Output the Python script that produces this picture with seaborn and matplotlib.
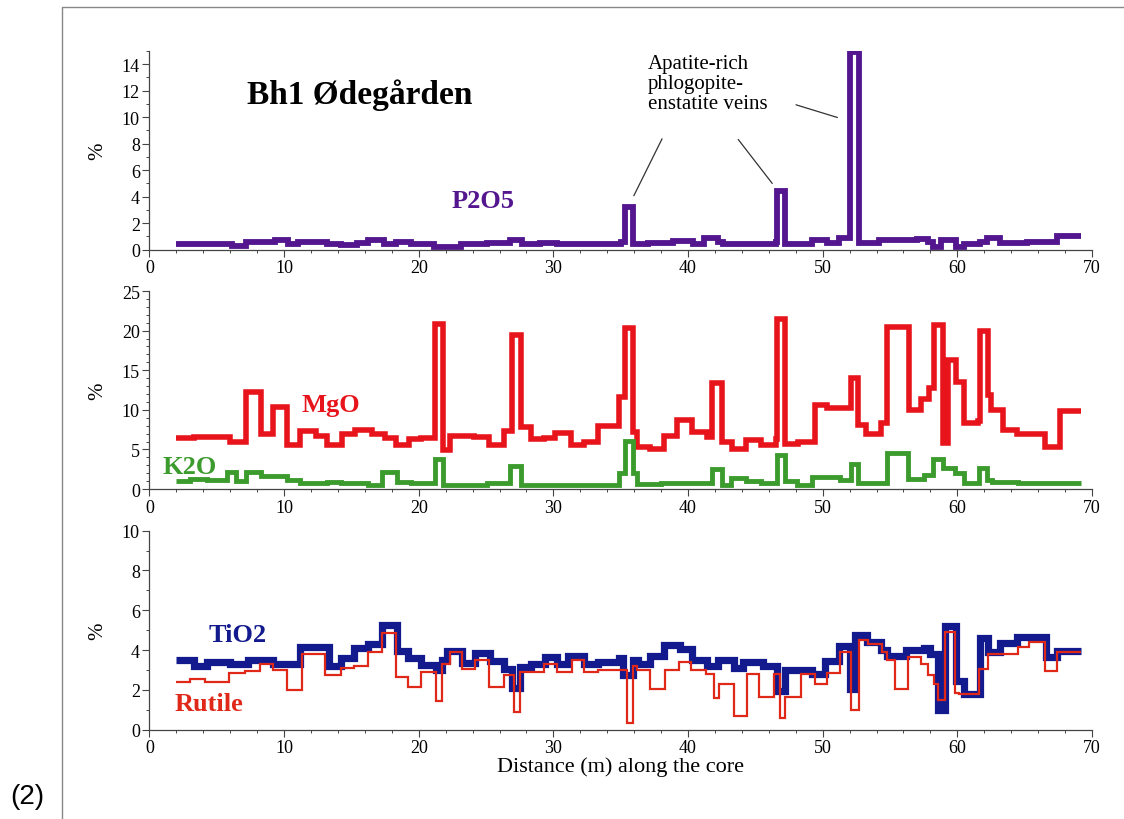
import numpy as np
import pandas as pd
import matplotlib
matplotlib.use("Agg")
import matplotlib.pyplot as plt
import seaborn as sns
from matplotlib.ticker import MultipleLocator
from matplotlib.lines import Line2D

# step data: each series is given as interval edges (m) and the value in each interval (%)
p2o5_edges = [2.0, 6.1, 7.2, 9.3, 10.3, 11.0, 12.4, 13.2, 14.2, 15.4, 16.2, 17.4, 18.3, 19.4, 21.1,
              23.1, 25.1, 26.8, 27.7, 29.0, 30.3, 35.0, 35.3, 35.9, 37.0, 38.9, 40.4, 41.2, 42.2, 42.6,
              46.5, 46.6, 47.2, 49.2, 50.3, 51.2, 52.0, 52.7, 54.2, 57.0, 57.8, 58.2, 58.8, 59.9, 60.5,
              61.7, 62.2, 63.2, 65.2, 67.4, 69.2]
p2o5_vals = [0.43, 0.3, 0.55, 0.75, 0.45, 0.6, 0.55, 0.45, 0.35, 0.5, 0.7, 0.4, 0.6, 0.45, 0.2,
             0.4, 0.5, 0.7, 0.45, 0.5, 0.45, 0.6, 3.25, 0.4, 0.5, 0.65, 0.45, 0.9, 0.6, 0.4,
             0.6, 4.4, 0.45, 0.7, 0.5, 0.9, 14.9, 0.5, 0.7, 0.8, 0.55, 0.2, 0.7, 0.2, 0.4,
             0.6, 0.9, 0.5, 0.6, 1.0]

mgo_edges = [2.0, 3.3, 6.0, 7.2, 8.3, 9.2, 10.2, 11.2, 12.4, 13.2, 14.3, 15.3, 16.5, 17.5, 18.3,
             19.3, 20.2, 21.2, 21.8, 22.3, 24.1, 25.2, 26.3, 26.9, 27.6, 28.3, 29.3, 30.1, 31.3,
             32.3, 33.3, 34.9, 35.3, 35.9, 36.2, 37.2, 38.2, 39.2, 40.3, 41.4, 41.8, 42.5, 43.3,
             44.3, 45.4, 46.5, 46.6, 47.2, 48.2, 49.4, 50.3, 52.1, 52.6, 53.2, 54.3, 54.8, 56.4,
             57.3, 57.9, 58.3, 58.9, 59.3, 59.9, 60.5, 61.5, 61.7, 62.3, 62.5, 63.4, 64.4, 66.5,
             67.6, 69.2]
mgo_vals = [6.4, 6.6, 6.0, 12.2, 7.0, 10.3, 5.5, 7.3, 6.7, 5.5, 6.9, 7.5, 7.0, 6.5,
            5.5, 6.3, 6.5, 20.8, 4.9, 6.7, 6.6, 5.5, 7.3, 19.4, 7.8, 6.3, 6.5, 7.1,
            5.6, 6.0, 8.0, 11.6, 20.3, 7.2, 5.3, 5.1, 6.7, 8.7, 7.2, 6.6, 13.4, 5.9,
            5.0, 6.2, 5.6, 6.3, 21.5, 5.7, 6.0, 10.6, 10.2, 14.0, 8.1, 6.9, 8.3, 20.5,
            10.0, 11.4, 12.8, 20.7, 5.8, 16.3, 13.5, 8.3, 8.6, 19.9, 11.9, 10.0, 7.4, 7.0,
            5.3, 9.8]

k2o_edges = [2.0, 3.0, 4.25, 5.75, 6.4, 7.2, 8.3, 10.2, 11.2, 13.2, 14.2, 16.2, 17.3, 18.4, 19.4,
             21.2, 21.8, 25.1, 26.8, 27.6, 34.9, 35.3, 35.9, 36.2, 38.0, 41.8, 42.5, 43.2, 44.3,
             45.4, 46.6, 47.2, 48.1, 49.2, 51.3, 52.1, 52.6, 54.8, 56.3, 57.5, 58.2, 58.9, 59.8,
             60.5, 61.6, 62.2, 62.6, 64.5, 69.2]
k2o_vals = [1.05, 1.3, 1.1, 2.2, 1.0, 2.2, 1.7, 1.2, 0.75, 0.85, 0.7, 0.5, 2.1, 0.9,
            0.7, 3.8, 0.55, 0.7, 2.9, 0.5, 2.0, 6.1, 2.0, 0.6, 0.8, 2.5, 0.5, 1.35,
            1.0, 0.7, 4.3, 1.05, 0.5, 1.55, 1.1, 3.15, 0.7, 4.5, 1.3, 1.8, 3.8, 2.7,
            2.0, 0.7, 2.7, 1.2, 0.9, 0.7]

tio2_edges = [2.0, 3.3, 4.25, 6.0, 7.35, 9.2, 11.2, 13.3, 14.2, 15.2, 16.2, 17.3, 18.4, 19.2, 20.2,
              21.3, 21.7, 22.1, 23.2, 24.2, 25.3, 26.3, 26.9, 27.5, 28.3, 29.4, 30.3, 31.1, 32.3,
              33.3, 34.9, 35.2, 35.9, 36.3, 37.2, 38.2, 39.4, 40.3, 41.4, 42.2, 43.4, 44.1, 45.6,
              46.6, 47.2, 49.2, 50.2, 51.2, 52.0, 52.4, 53.3, 54.3, 54.8, 56.2, 57.5, 58.0, 58.6,
              59.1, 59.9, 60.5, 61.7, 62.3, 63.2, 64.4, 66.6, 67.4, 69.2]
tio2_vals = [3.5, 3.2, 3.4, 3.3, 3.5, 3.3, 4.14, 3.2, 3.6, 4.1, 4.3, 5.28, 3.97, 3.6,
             3.23, 3.0, 3.5, 3.95, 3.35, 3.84, 3.47, 3.05, 2.1, 3.17, 3.3, 3.67, 3.3, 3.7,
             3.3, 3.4, 3.6, 2.75, 3.5, 3.3, 3.7, 4.27, 4.05, 3.5, 3.2, 3.5, 3.08, 3.4,
             3.2, 1.96, 3.0, 2.8, 3.47, 4.2, 2.04, 4.76, 4.42, 4.0, 3.72, 4.0, 4.1, 3.8,
             0.97, 5.2, 2.45, 1.8, 4.6, 3.9, 4.35, 4.66, 3.64, 3.97]

rutile_edges = [2.0, 3.0, 4.1, 5.9, 7.1, 8.2, 9.2, 10.2, 11.3, 13.0, 14.2, 15.2, 16.2, 17.3, 18.3,
                19.2, 20.2, 21.3, 21.7, 22.3, 23.2, 24.2, 25.2, 26.3, 27.05, 27.5, 29.3, 30.3, 31.4,
                32.3, 33.3, 35.5, 35.9, 36.2, 37.2, 38.3, 39.3, 40.2, 41.3, 41.9, 42.3, 43.4, 44.4,
                45.3, 46.4, 46.8, 47.2, 48.4, 49.4, 50.3, 51.3, 52.1, 52.7, 53.4, 54.4, 54.8, 55.4,
                56.3, 57.3, 57.8, 58.3, 58.6, 59.1, 59.8, 60.1, 61.6, 62.3, 64.5, 65.3, 66.5, 67.4,
                69.2]
rutile_vals = [2.38, 2.55, 2.4, 2.85, 2.97, 3.3, 3.0, 2.0, 3.8, 2.76, 3.1, 3.2, 3.9, 4.85,
               2.63, 2.13, 2.9, 1.46, 3.3, 3.9, 3.05, 3.5, 2.13, 2.75, 0.87, 2.88, 3.3, 2.9,
               3.5, 2.9, 3.0, 0.34, 3.2, 3.0, 2.04, 3.0, 3.4, 3.0, 2.8, 1.6, 2.3, 0.67,
               2.8, 1.64, 2.8, 0.57, 1.63, 2.8, 2.3, 2.85, 3.9, 1.0, 4.5, 4.3, 3.9, 3.5,
               2.04, 3.64, 3.3, 2.76, 2.3, 1.5, 4.9, 1.84, 1.8, 3.05, 3.8, 4.14, 4.42, 2.93,
               3.9]

c_p2o5 = '#54168e'
c_mgo = '#e8141c'
c_k2o = '#3c9b2d'
c_tio2 = '#121a8e'
c_rut = '#e02818'

sns.set_style('ticks')
plt.rcParams['font.family'] = ['Liberation Serif', 'DejaVu Serif']
plt.rcParams['text.color'] = 'black'
plt.rcParams['axes.labelcolor'] = 'black'
plt.rcParams['xtick.color'] = 'black'
plt.rcParams['ytick.color'] = 'black'


def step_line(ax, edges, vals, color, lw):
    df = pd.DataFrame({'x': edges, 'y': list(vals) + [vals[-1]]})
    sns.lineplot(data=df, x='x', y='y', ax=ax, color=color, lw=lw, estimator=None, sort=False,
                 drawstyle='steps-post', solid_joinstyle='miter', solid_capstyle='butt')


def style_axis(ax, ymax, major, minor):
    ax.set_xlim(0, 70)
    ax.set_ylim(0, ymax)
    ax.xaxis.set_major_locator(MultipleLocator(10))
    ax.xaxis.set_minor_locator(MultipleLocator(2))
    ax.yaxis.set_major_locator(MultipleLocator(major))
    ax.yaxis.set_minor_locator(MultipleLocator(minor))
    ax.tick_params(which='major', direction='out', length=5, width=0.8, labelsize=13,
                   color='#444444', labelcolor='black', pad=2)
    ax.tick_params(which='minor', direction='out', length=2.5, width=0.7, color='#444444')
    sns.despine(ax=ax)
    for s in ['left', 'bottom']:
        ax.spines[s].set_color('#444444')
        ax.spines[s].set_linewidth(0.9)
    ax.set_xlabel('')
    ax.set_ylabel('%', fontsize=15, color='black')
    ax.yaxis.set_label_coords(-0.045, 0.5)
    ax.set_facecolor('none')


fig = plt.figure(figsize=(11.24, 8.2), dpi=100)
ax1 = fig.add_axes([0.133, 0.6943, 0.8385, 0.2425])
ax2 = fig.add_axes([0.133, 0.4024, 0.8385, 0.2415])
ax3 = fig.add_axes([0.133, 0.1089, 0.8385, 0.2427])

# top panel: P2O5
step_line(ax1, p2o5_edges, p2o5_vals, c_p2o5, 4.2)
style_axis(ax1, 15, 2, 1)
ax1.text(15.6, 11.7, 'Bh1 Ødegården', fontsize=24, fontweight='bold', ha='center', va='center')
ax1.text(24.8, 3.7, 'P2O5', fontsize=19, fontweight='bold', color=c_p2o5, ha='center', va='center')
ax1.text(37.0, 14.75, 'Apatite-rich\nphlogopite-\nenstatite veins', fontsize=15, ha='left', va='top',
         linespacing=1.08)
for (xa, ya), (xb, yb) in [((38.16, 8.55), (35.88, 3.88)),
                           ((43.6, 8.48), (46.38, 4.83)),
                           ((47.82, 10.99), (51.29, 9.91))]:
    ax1.annotate('', xy=(xb, yb), xytext=(xa, ya),
                 arrowprops=dict(arrowstyle='-', color='#333333', lw=0.9))

# middle panel: MgO and K2O
step_line(ax2, mgo_edges, mgo_vals, c_mgo, 4.0)
step_line(ax2, k2o_edges, k2o_vals, c_k2o, 3.5)
style_axis(ax2, 25, 5, 1)
ax2.text(13.5, 10.7, 'MgO', fontsize=19, fontweight='bold', color=c_mgo, ha='center', va='center')
ax2.text(3.0, 2.9, 'K2O', fontsize=19, fontweight='bold', color=c_k2o, ha='center', va='center')

# bottom panel: TiO2 and rutile
step_line(ax3, tio2_edges, tio2_vals, c_tio2, 5.2)
step_line(ax3, rutile_edges, rutile_vals, c_rut, 1.6)
style_axis(ax3, 10, 2, 1)
ax3.text(6.55, 4.76, 'TiO2', fontsize=19, fontweight='bold', color=c_tio2, ha='center', va='center')
ax3.text(4.4, 1.34, 'Rutile', fontsize=19, fontweight='bold', color=c_rut, ha='center', va='center')
ax3.set_xlabel('Distance (m) along the core', fontsize=16, labelpad=0, color='black')

# outer frame and panel number
fig.add_artist(Line2D([62 / 1124, 62 / 1124, 1.0], [0.0, 1 - 8 / 820, 1 - 8 / 820],
                      transform=fig.transFigure, color='#888888', lw=1.0))
fig.text(0.024, 0.028, '(2)', fontsize=20, family='Liberation Sans', ha='center', va='center')

fig.savefig('out.png', dpi=100, facecolor='white')
